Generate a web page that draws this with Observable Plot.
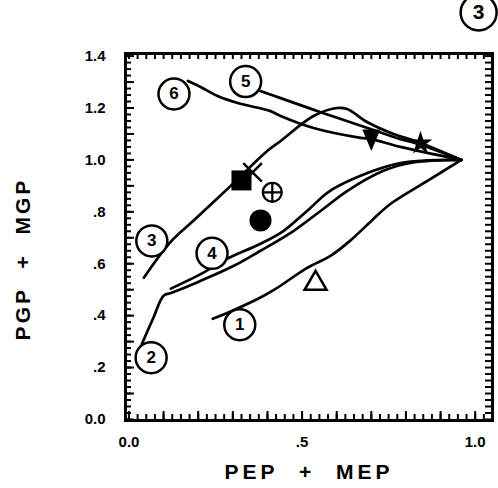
<!DOCTYPE html>
<html><head><meta charset="utf-8">
<script src="https://cdn.jsdelivr.net/npm/d3@7"></script>
<script src="https://cdn.jsdelivr.net/npm/@observablehq/plot@0.6"></script>
<style>
html,body{margin:0;padding:0;background:#fff}
#chart svg text{font-weight:bold}
</style>
</head><body><div id="chart"></div>
<script>
// Tick values and labels
const xTickValues = [0, 0.5, 1.0];
const xTickLabels = ["0.0", ".5", "1.0"];
const yTickValues = [0, 0.2, 0.4, 0.6, 0.8, 1.0, 1.2, 1.4];
const yTickLabels = ["0.0", ".2", ".4", ".6", ".8", "1.0", "1.2", "1.4"];

// Curves (PEP+MEP, PGP+MGP)
const c1x = [0.242, 0.30, 0.38, 0.42, 0.516, 0.582, 0.64, 0.70, 0.755, 0.862, 0.96];
const c1y = [0.388, 0.42, 0.47, 0.50, 0.585, 0.63, 0.69, 0.765, 0.83, 0.919, 1.0];
const c2x = [0.037, 0.07, 0.10, 0.121, 0.2, 0.30, 0.38, 0.476, 0.56, 0.63, 0.735, 0.82, 0.96];
const c2y = [0.29, 0.39, 0.477, 0.487, 0.53, 0.59, 0.65, 0.727, 0.81, 0.88, 0.958, 0.99, 1.0];
const c3x = [0.043, 0.121, 0.19, 0.294, 0.40, 0.438, 0.533, 0.60, 0.63, 0.689, 0.764, 0.833, 0.96];
const c3y = [0.546, 0.685, 0.77, 0.9, 1.035, 1.073, 1.169, 1.2, 1.196, 1.145, 1.1, 1.07, 1.0];
const c4x = [0.121, 0.207, 0.285, 0.38, 0.447, 0.52, 0.58, 0.706, 0.784, 0.86, 0.96];
const c4y = [0.504, 0.56, 0.62, 0.677, 0.727, 0.81, 0.88, 0.958, 0.988, 0.998, 1.0];
const c5x = [0.38, 0.438, 0.562, 0.689, 0.784, 0.84, 0.96];
const c5y = [1.265, 1.238, 1.18, 1.123, 1.08, 1.06, 1.0];
const c6x = [0.17, 0.207, 0.256, 0.314, 0.409, 0.438, 0.533, 0.669, 0.70, 0.784, 0.96];
const c6y = [1.304, 1.281, 1.246, 1.219, 1.188, 1.169, 1.123, 1.085, 1.08, 1.05, 1.0];

// Circled curve labels
const labelText = ["1", "2", "3", "4", "5", "6"];
const labelX = [0.32, 0.064, 0.066, 0.24, 0.337, 0.13];
const labelY = [0.365, 0.238, 0.688, 0.64, 1.302, 1.254];

// Panel label
const panelText = ["3"];
const panelX = [1.01];
const panelY = [1.568];

// Individual point markers
const squareX = [0.325], squareY = [0.921];
const timesX = [0.357], timesY = [0.952];
const oplusX = [0.414], oplusY = [0.875];
const discX = [0.380], discY = [0.767];
const triUpX = [0.539], triUpY = [0.536];
const triDownX = [0.70], triDownY = [1.079];
const starX = [0.842], starY = [1.064];

const curves = [["1", c1x, c1y], ["2", c2x, c2y], ["3", c3x, c3y], ["4", c4x, c4y], ["5", c5x, c5y], ["6", c6x, c6y]]
  .flatMap(([id, xs, ys]) => xs.map((x, i) => ({id, x, y: ys[i]})));
const labels = labelText.map((t, i) => ({t, x: labelX[i], y: labelY[i]}));
const panel = panelText.map((t, i) => ({t, x: panelX[i], y: panelY[i]}));
const pts = (xs, ys) => xs.map((x, i) => ({x, y: ys[i]}));

const oplusSymbol = {draw(ctx, size) {
  const r = Math.sqrt(size / Math.PI);
  ctx.moveTo(r, 0); ctx.arc(0, 0, r, 0, 2 * Math.PI);
  ctx.moveTo(-r, 0); ctx.lineTo(r, 0);
  ctx.moveTo(0, -r); ctx.lineTo(0, r);
}};
const triDownSymbol = {draw(ctx, size) {
  const r = Math.sqrt(size / Math.PI);
  ctx.moveTo(-0.9 * r, -r); ctx.lineTo(0.9 * r, -r); ctx.lineTo(0, 1.15 * r); ctx.closePath();
}};
const triUpSymbol = {draw(ctx, size) {
  const r = Math.sqrt(size / Math.PI);
  ctx.moveTo(0, -0.95 * r); ctx.lineTo(1.1 * r, 0.95 * r); ctx.lineTo(-1.1 * r, 0.95 * r); ctx.closePath();
}};

const W = 498, H = 488, mL = 125, mR = 6, mT = 53, mB = 68;
const xDom = [-0.01, 1.05], yDom = [-0.004, 1.41];
const FW = W - mL - mR, FH = H - mT - mB;

const xMinor = d3.range(0, 1.051, 0.025);
const yMinor = d3.range(0, 1.41, 0.025);
const xMid = d3.range(0, 1.051, 0.1);
const yMid = d3.range(0, 1.41, 0.1);

const fmt = (vals, labs) => d => labs[vals.indexOf(d)];
const tickStyle = {stroke: "black", strokeWidth: 2};

const chart = Plot.plot({
  width: W,
  height: H,
  marginLeft: mL,
  marginRight: mR,
  marginTop: mT,
  marginBottom: mB,
  style: {fontFamily: "'Liberation Sans', Arial, sans-serif", background: "#fff", color: "#000"},
  x: {domain: xDom, label: null},
  y: {domain: yDom, label: null},
  marks: [
    Plot.frame({stroke: "black", strokeWidth: 3}),
    Plot.axisX(xTickValues, {anchor: "bottom", tickSize: 0, tickPadding: 16, tickFormat: fmt(xTickValues, xTickLabels), fontSize: 15, fontWeight: "bold"}),
    Plot.axisY(yTickValues, {anchor: "left", tickSize: 0, tickPadding: 20, tickFormat: fmt(yTickValues, yTickLabels), fontSize: 15, fontWeight: "bold"}),
    Plot.line(curves, {x: "x", y: "y", z: "id", stroke: "black", strokeWidth: 2.7, curve: "catmull-rom"}),
    Plot.dot(pts(squareX, squareY), {x: "x", y: "y", symbol: "square", r: 11.3, fill: "black"}),
    Plot.dot(pts(timesX, timesY), {x: "x", y: "y", symbol: "times", r: 8.5, stroke: "black", strokeWidth: 2.5}),
    Plot.dot(pts(oplusX, oplusY), {x: "x", y: "y", symbol: oplusSymbol, r: 9.5, stroke: "black", strokeWidth: 2.2, fill: "white"}),
    Plot.dot(pts(discX, discY), {x: "x", y: "y", r: 11, fill: "black"}),
    Plot.dot(pts(triUpX, triUpY), {x: "x", y: "y", symbol: triUpSymbol, r: 10, stroke: "black", strokeWidth: 2.5, fill: "none", strokeLinejoin: "miter"}),
    Plot.dot(pts(triDownX, triDownY), {x: "x", y: "y", symbol: triDownSymbol, r: 10, fill: "black"}),
    Plot.dot(pts(starX, starY), {x: "x", y: "y", symbol: "star", r: 7.5, fill: "black"}),
    Plot.dot(labels, {x: "x", y: "y", r: 15.5, fill: "white", stroke: "black", strokeWidth: 2.5}),
    Plot.text(labels, {x: "x", y: "y", text: "t", fontSize: 17, fontWeight: "bold", fill: "black"}),
    Plot.dot(panel, {x: "x", y: "y", r: 18, fill: "white", stroke: "black", strokeWidth: 2.5}),
    Plot.text(panel, {x: "x", y: "y", text: "t", fontSize: 21, fontWeight: "bold", fill: "black"}),
    Plot.text(["PEP + MEP"], {frameAnchor: "bottom", dy: 52, textAnchor: "middle", lineAnchor: "middle", fontSize: 21, fontWeight: "bold", fill: "black"}),
    Plot.text(["PGP + MGP"], {frameAnchor: "left", dx: -102, dy: 22, textAnchor: "middle", lineAnchor: "middle", rotate: -90, fontSize: 21, fontWeight: "bold", fill: "black"}),
    // inward ticks on all four sides (drawn last, on top)
    Plot.ruleX(xMinor, {x: d => d, insetTop: FH - 6, ...tickStyle}),
    Plot.ruleX(xMid, {x: d => d, insetTop: FH - 9, ...tickStyle}),
    Plot.ruleX(xMinor, {x: d => d, insetBottom: FH - 6, ...tickStyle}),
    Plot.ruleY(yMinor, {y: d => d, insetRight: FW - 6, ...tickStyle}),
    Plot.ruleY(yMid, {y: d => d, insetRight: FW - 9, ...tickStyle}),
    Plot.ruleY(yMinor, {y: d => d, insetLeft: FW - 7, ...tickStyle})
  ]
});
// letter / word spacing for axis titles
chart.querySelectorAll("text").forEach(t => {
  if (t.textContent === "PEP + MEP") {
    t.style.letterSpacing = "4px";
    t.style.wordSpacing = "11px";
  } else if (t.textContent === "PGP + MGP") {
    t.style.letterSpacing = "3px";
    t.style.wordSpacing = "10px";
  }
});
document.getElementById("chart").appendChild(chart);
</script>
</body></html>
